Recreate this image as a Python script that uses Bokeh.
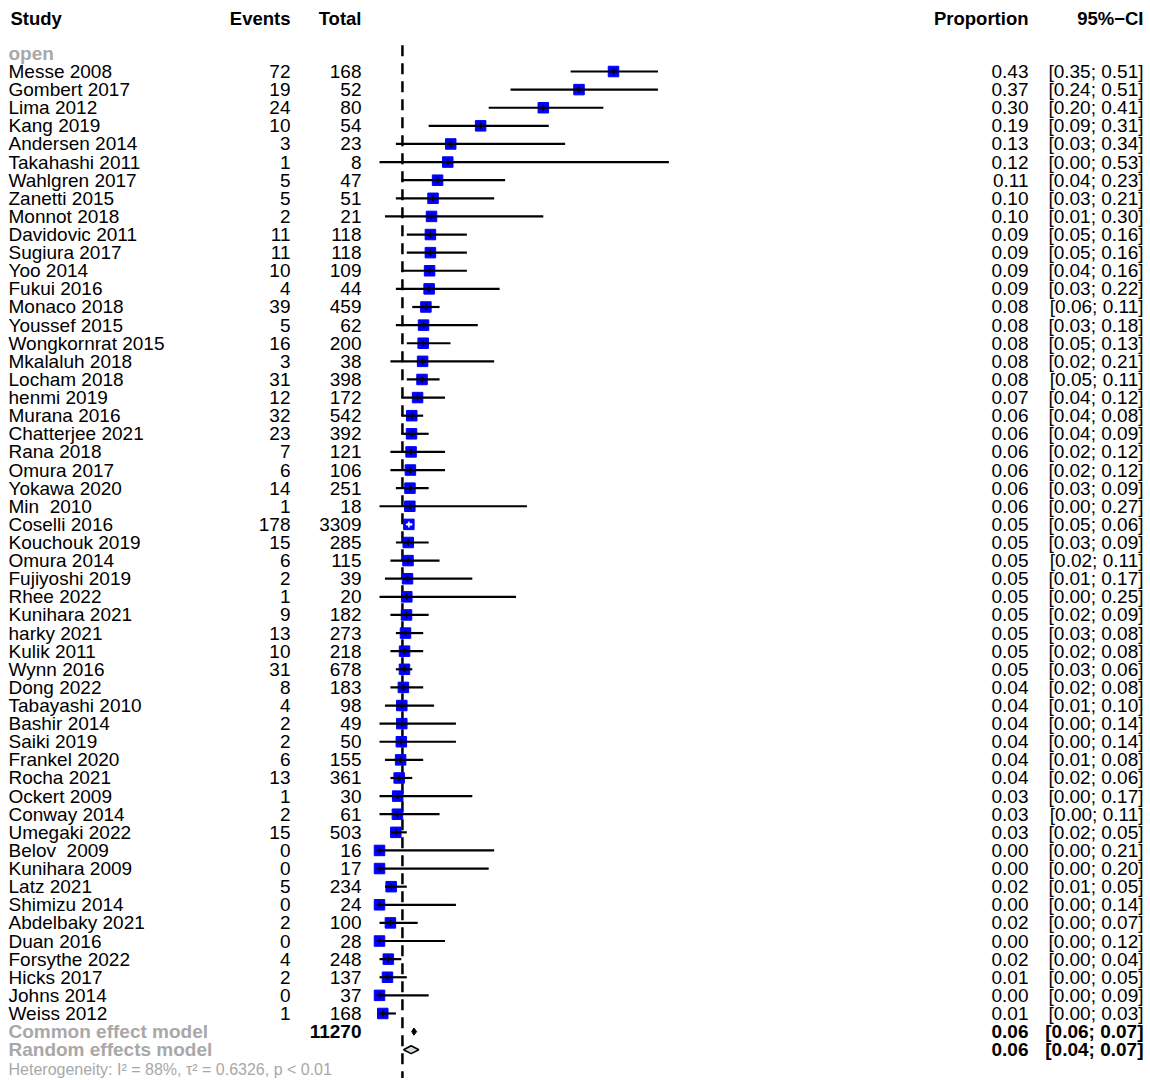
from bokeh.plotting import figure
from bokeh.models import Range1d, ColumnDataSource
from bokeh.embed import file_html
from bokeh.resources import INLINE
from bokeh.core.properties import value

# ---------------- data ----------------
studies = ["Messe 2008", "Gombert 2017", "Lima 2012", "Kang 2019", "Andersen 2014",
           "Takahashi 2011", "Wahlgren 2017", "Zanetti 2015", "Monnot 2018", "Davidovic 2011",
           "Sugiura 2017", "Yoo 2014", "Fukui 2016", "Monaco 2018", "Youssef 2015",
           "Wongkornrat 2015", "Mkalaluh 2018", "Locham 2018", "henmi 2019", "Murana 2016",
           "Chatterjee 2021", "Rana 2018", "Omura 2017", "Yokawa 2020", "Min  2010",
           "Coselli 2016", "Kouchouk 2019", "Omura 2014", "Fujiyoshi 2019", "Rhee 2022",
           "Kunihara 2021", "harky 2021", "Kulik 2011", "Wynn 2016", "Dong 2022",
           "Tabayashi 2010", "Bashir 2014", "Saiki 2019", "Frankel 2020", "Rocha 2021",
           "Ockert 2009", "Conway 2014", "Umegaki 2022", "Belov  2009", "Kunihara 2009",
           "Latz 2021", "Shimizu 2014", "Abdelbaky 2021", "Duan 2016", "Forsythe 2022",
           "Hicks 2017", "Johns 2014", "Weiss 2012"]
events = [72, 19, 24, 10, 3, 1, 5, 5, 2, 11, 11, 10, 4, 39, 5, 16, 3, 31, 12, 32,
          23, 7, 6, 14, 1, 178, 15, 6, 2, 1, 9, 13, 10, 31, 8, 4, 2, 2, 6, 13,
          1, 2, 15, 0, 0, 5, 0, 2, 0, 4, 2, 0, 1]
totals = [168, 52, 80, 54, 23, 8, 47, 51, 21, 118, 118, 109, 44, 459, 62, 200, 38, 398, 172, 542,
          392, 121, 106, 251, 18, 3309, 285, 115, 39, 20, 182, 273, 218, 678, 183, 98, 49, 50, 155, 361,
          30, 61, 503, 16, 17, 234, 24, 100, 28, 248, 137, 37, 168]
ci_lower = [0.35, 0.24, 0.20, 0.09, 0.03, 0.00, 0.04, 0.03, 0.01, 0.05,
            0.05, 0.04, 0.03, 0.06, 0.03, 0.05, 0.02, 0.05, 0.04, 0.04,
            0.04, 0.02, 0.02, 0.03, 0.00, 0.05, 0.03, 0.02, 0.01, 0.00,
            0.02, 0.03, 0.02, 0.03, 0.02, 0.01, 0.00, 0.00, 0.01, 0.02,
            0.00, 0.00, 0.02, 0.00, 0.00, 0.01, 0.00, 0.00, 0.00, 0.00,
            0.00, 0.00, 0.00]
ci_upper = [0.51, 0.51, 0.41, 0.31, 0.34, 0.53, 0.23, 0.21, 0.30, 0.16,
            0.16, 0.16, 0.22, 0.11, 0.18, 0.13, 0.21, 0.11, 0.12, 0.08,
            0.09, 0.12, 0.12, 0.09, 0.27, 0.06, 0.09, 0.11, 0.17, 0.25,
            0.09, 0.08, 0.08, 0.06, 0.08, 0.10, 0.14, 0.14, 0.08, 0.06,
            0.17, 0.11, 0.05, 0.21, 0.20, 0.05, 0.14, 0.07, 0.12, 0.04,
            0.05, 0.09, 0.03]

common_total = 11270
common_est, common_lo, common_hi = 0.063, 0.059, 0.068
random_est, random_lo, random_hi = 0.058, 0.044, 0.072
common_prop, common_ci = "0.06", "[0.06; 0.07]"
random_prop, random_ci = "0.06", "[0.04; 0.07]"
heterogeneity = "Heterogeneity: I\u00b2 = 88%, \u03c4\u00b2 = 0.6326, p < 0.01"
subgroup = "open"
ref_line = 0.042

# ---------------- layout ----------------
W, H = 1148, 1078
ROW = 18.115
TOP = 71.0
FONT = value("Liberation Sans")
GRAY = "#a8a8a8"

n = len(studies)
rows = list(range(n))
props = [e / t for e, t in zip(events, totals)]
prop_txt = [f"{v:.2f}" for v in props]
ci_txt = [f"[{lo:.2f}; {hi:.2f}]" for lo, hi in zip(ci_lower, ci_upper)]
inside = [(hi - lo) < 0.018 for lo, hi in zip(ci_lower, ci_upper)]
line_col = ["white" if f else "black" for f in inside]
study_disp = [s.replace("  ", " \u00a0") for s in studies]

p = figure(width=W, height=H, output_backend="svg", toolbar_location=None,
           x_range=Range1d(0, W), y_range=Range1d((H - TOP) / ROW, -TOP / ROW),
           min_border=0, min_border_left=0, min_border_right=0,
           min_border_top=0, min_border_bottom=0)
p.axis.visible = False
p.grid.visible = False
p.outline_line_color = None
p.background_fill_color = "white"

PX0, SLOPE = 379.0, 546.0
p.extra_x_ranges = {"prop": Range1d(-PX0 / SLOPE, (W - PX0) / SLOPE)}

src = ColumnDataSource(dict(row=rows, study=study_disp, ev=[str(e) for e in events],
                            tot=[str(t) for t in totals], prop=props, ptxt=prop_txt,
                            ctxt=ci_txt, lo=ci_lower, hi=ci_upper, lcol=line_col))

# reference dashed line
p.segment(x0=[ref_line], x1=[ref_line], y0=[-1.45], y1=[(H - TOP) / ROW],
          x_range_name="prop", line_color="black", line_width=2.5, line_dash="11 7")

# squares and CIs
p.scatter(x="prop", y="row", source=src, x_range_name="prop", marker="square",
          size=10.5, fill_color="blue", line_color="blue")
p.segment(x0="lo", x1="hi", y0="row", y1="row", source=src, x_range_name="prop",
          line_color="lcol", line_width=2.2)
p.scatter(x="prop", y="row", source=src, x_range_name="prop", marker="cross",
          size=6, line_color="lcol", line_width=1.5)

# diamonds
rc = n
rr = n + 1
p.patch(x=[common_lo, common_est, common_hi, common_est], y=[rc, rc - 0.2, rc, rc + 0.2],
        x_range_name="prop", fill_color="black", line_color="black", line_width=1)
p.patch(x=[random_lo, random_est, random_hi, random_est], y=[rr, rr - 0.22, rr, rr + 0.22],
        x_range_name="prop", fill_color="#cfdcdc", line_color="black", line_width=1.5)

# text columns
fs = "19px"
X_STUDY, X_EV, X_TOT, X_PROP, X_CI = 8, 290, 361, 1028, 1143
p.text(x=X_STUDY, y="row", text="study", source=src, text_font=FONT, text_font_size=fs,
       text_baseline="middle", text_align="left", text_color="black")
p.text(x=X_EV, y="row", text="ev", source=src, text_font=FONT, text_font_size=fs,
       text_baseline="middle", text_align="right", text_color="black")
p.text(x=X_TOT, y="row", text="tot", source=src, text_font=FONT, text_font_size=fs,
       text_baseline="middle", text_align="right", text_color="black")
p.text(x=X_PROP, y="row", text="ptxt", source=src, text_font=FONT, text_font_size=fs,
       text_baseline="middle", text_align="right", text_color="black")
p.text(x=X_CI, y="row", text="ctxt", source=src, text_font=FONT, text_font_size=fs,
       text_baseline="middle", text_align="right", text_color="black")

# headers
hy = -2.93
for x, t, al in [(10, "Study", "left"), (X_EV, "Events", "right"), (X_TOT, "Total", "right"),
                 (X_PROP, "Proportion", "right"), (X_CI, "95%\u2212CI", "right")]:
    p.text(x=[x], y=[hy], text=[t], text_font=FONT, text_font_size="18.5px",
           text_font_style="bold", text_baseline="middle", text_align=al, text_color="black")

p.text(x=[X_STUDY], y=[-1], text=[subgroup], text_font=FONT, text_font_size=fs,
       text_font_style="bold", text_baseline="middle", text_color=GRAY)

# summary rows
p.text(x=[X_STUDY, X_STUDY], y=[rc, rr], text=["Common effect model", "Random effects model"],
       text_font=FONT, text_font_size=fs, text_font_style="bold",
       text_baseline="middle", text_color=GRAY)
p.text(x=[X_TOT], y=[rc], text=[str(common_total)], text_font=FONT, text_font_size=fs,
       text_font_style="bold", text_baseline="middle", text_align="right", text_color="black")
p.text(x=[X_PROP, X_PROP], y=[rc, rr], text=[common_prop, random_prop], text_font=FONT,
       text_font_size=fs, text_font_style="bold", text_baseline="middle",
       text_align="right", text_color="black")
p.text(x=[X_CI, X_CI], y=[rc, rr], text=[common_ci, random_ci], text_font=FONT,
       text_font_size=fs, text_font_style="bold", text_baseline="middle",
       text_align="right", text_color="black")
p.text(x=[X_STUDY], y=[n + 2.1], text=[heterogeneity], text_font=FONT, text_font_size="16px",
       text_baseline="middle", text_color=GRAY)

open("out.html", "w").write(file_html(p, INLINE))
